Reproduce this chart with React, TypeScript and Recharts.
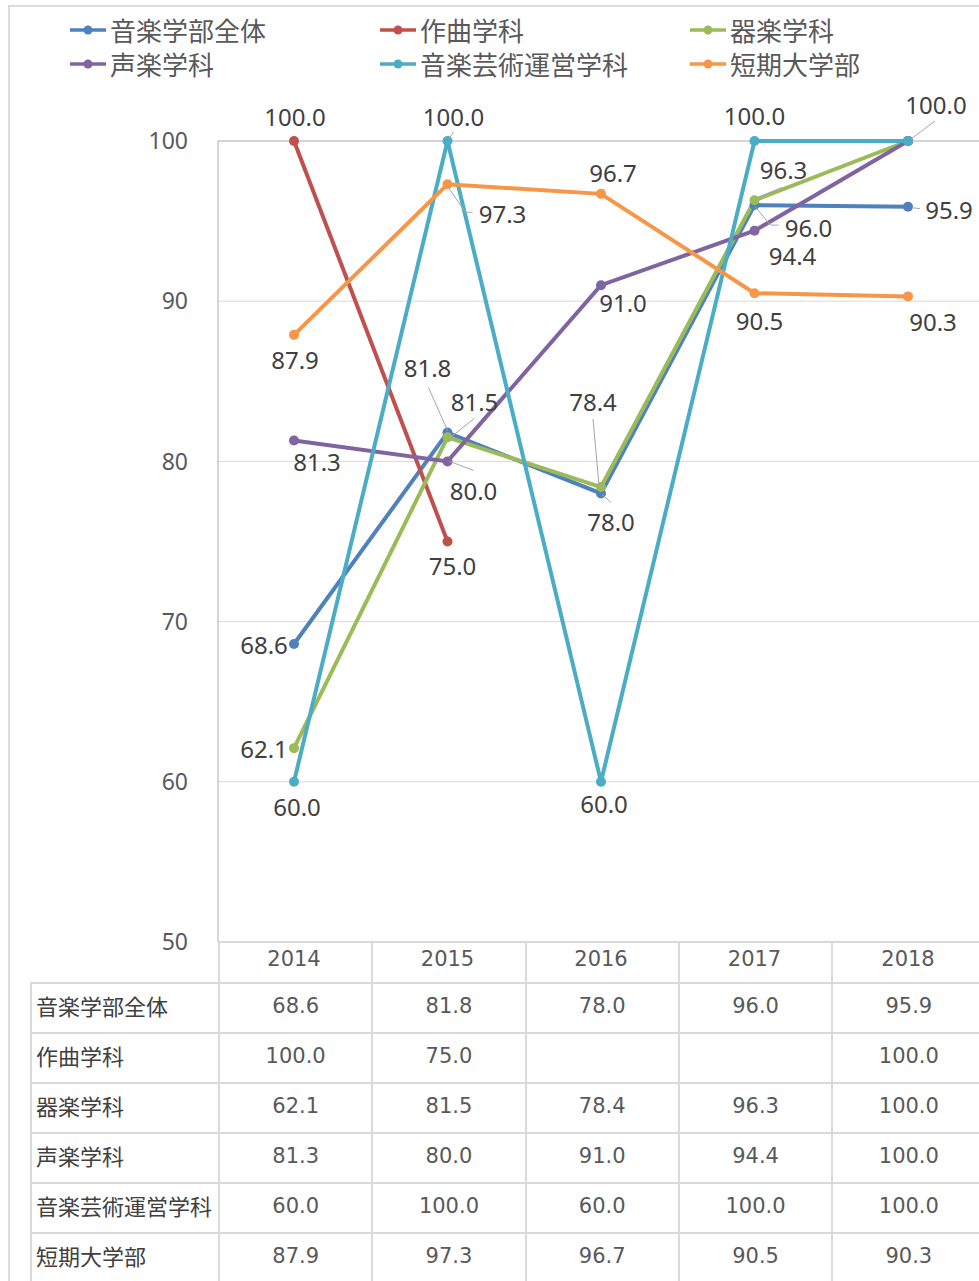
import React from "react";
import {
  LineChart,
  Line,
  XAxis,
  YAxis,
  CartesianGrid,
  Legend,
  LabelList,
  ReferenceLine,
} from "recharts";

const years = ["2014", "2015", "2016", "2017", "2018"];
const musicAll = [68.6, 81.8, 78.0, 96.0, 95.9];
const composition = [100.0, 75.0, null, null, 100.0];
const instrumental = [62.1, 81.5, 78.4, 96.3, 100.0];
const vocal = [81.3, 80.0, 91.0, 94.4, 100.0];
const artsMgmt = [60.0, 100.0, 60.0, 100.0, 100.0];
const junior = [87.9, 97.3, 96.7, 90.5, 90.3];
const yTicks = [50, 60, 70, 80, 90, 100];

const SERIES = [
  { key: "musicAll", name: "音楽学部全体", values: musicAll, color: "#4F81BD" },
  { key: "composition", name: "作曲学科", values: composition, color: "#C0504D" },
  { key: "instrumental", name: "器楽学科", values: instrumental, color: "#9BBB59" },
  { key: "vocal", name: "声楽学科", values: vocal, color: "#8064A2" },
  { key: "artsMgmt", name: "音楽芸術運営学科", values: artsMgmt, color: "#4BACC6" },
  { key: "junior", name: "短期大学部", values: junior, color: "#F79646" },
];

// label offsets from each point (Excel-style hand placement), optional leader line
type Place = { dx: number; dy: number; leader?: number[][] } | null;
const PLACE: Record<string, Place[]> = {
  musicAll: [
    { dx: -30, dy: 0 },
    { dx: -20, dy: -65, leader: [[0, -2], [-19, -45]] },
    { dx: 10, dy: 28, leader: [[1, 1], [10, 9]] },
    { dx: 54, dy: 22, leader: [[1, 2], [16, 20], [24, 20]] },
    { dx: 41, dy: 3, leader: [[4, 1], [12, 2]] },
  ],
  composition: [{ dx: 1, dy: -25 }, { dx: 5, dy: 24 }, null, null, null],
  instrumental: [
    { dx: -30, dy: 0 },
    { dx: 27, dy: -36, leader: [[3, 0], [27, -19]] },
    { dx: -8, dy: -86, leader: [[-2, -2], [-8, -68]] },
    { dx: 29, dy: -31, leader: [[1, -2], [28, -13]] },
    null,
  ],
  vocal: [
    { dx: 23, dy: 21 },
    { dx: 26, dy: 29, leader: [[2, 0], [26, 9]] },
    { dx: 22, dy: 17 },
    { dx: 38, dy: 25 },
    null,
  ],
  artsMgmt: [
    { dx: 3, dy: 25 },
    { dx: 6, dy: -25, leader: [[2, -3], [6, -9]] },
    { dx: 3, dy: 22 },
    { dx: 0, dy: -26 },
    { dx: 28, dy: -37, leader: [[3, -2], [27, -20]] },
  ],
  junior: [
    { dx: 1, dy: 25 },
    { dx: 55, dy: 29, leader: [[0, 2], [18, 28], [25, 28]] },
    { dx: 12, dy: -21 },
    { dx: 5, dy: 27 },
    { dx: 25, dy: 25 },
  ],
};

const data = years.map((year, i) => {
  const row: Record<string, any> = { year };
  SERIES.forEach((s) => (row[s.key] = s.values[i]));
  return row;
});

const makeLabel = (key: string) => (props: any) => {
  const { x, y, value, index } = props;
  const p = PLACE[key][index];
  if (value == null || !p) return null;
  return (
    <g>
      {p.leader && (
        <polyline
          points={p.leader.map(([lx, ly]) => `${x + lx},${y + ly}`).join(" ")}
          fill="none"
          stroke="#a6a6a6"
          strokeWidth={1}
        />
      )}
      <text
        x={x + p.dx}
        y={y + p.dy}
        textAnchor="middle"
        dominantBaseline="central"
        fontFamily="'Noto Sans', sans-serif"
        fontSize={24}
        fill="#404040"
      >
        {Number(value).toFixed(1)}
      </text>
    </g>
  );
};

const renderLegend = (props: any) => {
  const payload = [...(props.payload || [])].sort(
    (a: any, b: any) =>
      SERIES.findIndex((s) => s.name === a.value) -
      SERIES.findIndex((s) => s.name === b.value)
  );
  return (
    <div
      style={{
        display: "grid",
        gridTemplateColumns: "310px 310px 310px",
        width: 930,
      }}
    >
      {payload.map((p: any) => (
        <div
          key={p.value}
          style={{ height: 34, display: "flex", alignItems: "center" }}
        >
          <svg width={40} height={14} style={{ flexShrink: 0 }}>
            <line x1={0} y1={7} x2={36} y2={7} stroke={p.color} strokeWidth={3.5} />
            <circle cx={18} cy={7} r={4.5} fill={p.color} />
          </svg>
          <span
            style={{
              fontFamily: "'Noto Sans CJK JP', sans-serif",
              fontSize: 26,
              color: "#595959",
              lineHeight: "34px",
            }}
          >
            {p.value}
          </span>
        </div>
      ))}
    </div>
  );
};

const cell: React.CSSProperties = {
  border: "2px solid #dadada",
  padding: 0,
  paddingBottom: 4,
  height: 44,
  textAlign: "center",
  fontFamily: "'DejaVu Sans', sans-serif",
  fontSize: 21,
  color: "#595959",
};

const nameCell: React.CSSProperties = {
  ...cell,
  textAlign: "left",
  paddingLeft: 4,
  paddingBottom: 7,
  height: 41,
  fontFamily: "'Noto Sans CJK JP', sans-serif",
  fontSize: 22,
  color: "#404040",
  whiteSpace: "nowrap",
};

export default function App() {
  return (
    <div
      style={{
        position: "absolute",
        left: 0,
        top: 0,
        width: 979,
        height: 1281,
        overflow: "hidden",
        background: "#fff",
      }}
    >
      <div
        style={{
          position: "absolute",
          left: 8,
          top: 5,
          width: 1000,
          height: 1300,
          borderLeft: "2px solid #dcdcdc",
          borderTop: "2px solid #dcdcdc",
        }}
      />
      <table
        style={{
          position: "absolute",
          left: 30,
          top: 941,
          borderCollapse: "collapse",
          tableLayout: "fixed",
          width: 955,
        }}
      >
        <colgroup>
          <col style={{ width: 188 }} />
          {years.map((y) => (
            <col key={y} style={{ width: 153.3 }} />
          ))}
        </colgroup>
        <tbody>
          <tr>
            <td
              style={{ ...cell, height: 39, paddingBottom: 0, borderTop: "none", borderLeft: "none" }}
            />
            {years.map((y) => (
              <td key={y} style={{ ...cell, height: 39, paddingBottom: 0 }} />
            ))}
          </tr>
          {SERIES.map((s) => (
            <tr key={s.key}>
              <td style={nameCell}>{s.name}</td>
              {s.values.map((v, i) => (
                <td key={i} style={cell}>
                  {v == null ? "" : v.toFixed(1)}
                </td>
              ))}
            </tr>
          ))}
        </tbody>
      </table>
      <div style={{ position: "absolute", left: 0, top: 0 }}>
        <LineChart
          width={984}
          height={983}
          data={data}
          margin={{ top: 73, right: 0, bottom: 0, left: 0 }}
        >
          <CartesianGrid vertical={false} stroke="#d9d9d9" />
          <ReferenceLine y={100} stroke="#bcbcbc" />
          <XAxis
            dataKey="year"
            padding={{ left: 76, right: 76 }}
            tickLine={false}
            tickSize={0}
            tickMargin={9}
            height={41}
            axisLine={{ stroke: "#d9d9d9" }}
            tick={{ fill: "#595959", fontSize: 21, fontFamily: "'DejaVu Sans', sans-serif" }}
          />
          <YAxis
            domain={[50, 100]}
            ticks={yTicks}
            width={218}
            tickLine={false}
            tickSize={0}
            tickMargin={30}
            axisLine={{ stroke: "#b0b0b0" }}
            tick={{ fill: "#595959", fontSize: 23, fontFamily: "'Noto Sans', sans-serif" }}
          />
          <Legend
            verticalAlign="top"
            content={renderLegend}
            wrapperStyle={{ top: 13, left: 70, width: 930 }}
          />
          {SERIES.map((s) => (
            <Line
              key={s.key}
              dataKey={s.key}
              name={s.name}
              type="linear"
              stroke={s.color}
              strokeWidth={4}
              dot={{ r: 5, fill: s.color, stroke: s.color, strokeWidth: 0 }}
              activeDot={false}
              isAnimationActive={false}
            >
              <LabelList dataKey={s.key} content={makeLabel(s.key)} />
            </Line>
          ))}
        </LineChart>
      </div>
    </div>
  );
}
